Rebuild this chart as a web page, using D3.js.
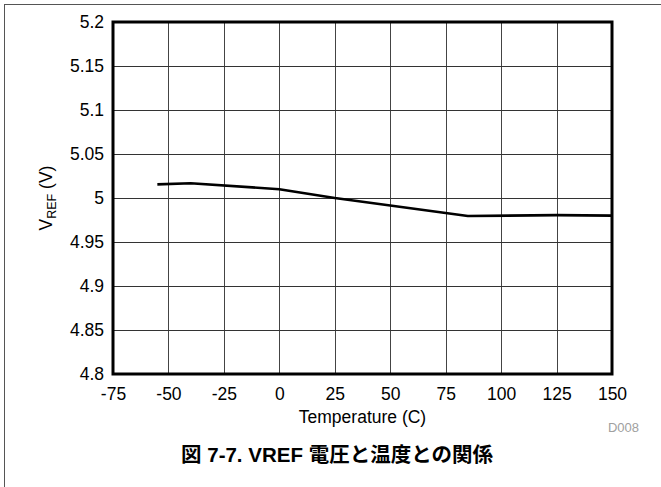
<!DOCTYPE html>
<html>
<head>
<meta charset="utf-8">
<script src="https://cdn.jsdelivr.net/npm/d3@7"></script>
<style>
  html, body { margin: 0; padding: 0; background: #fff; }
  svg { display: block; }
  text { font-family: "Liberation Sans", Arial, "Noto Sans CJK JP", sans-serif; }
</style>
</head>
<body>
<script>
// VREF versus temperature
const temperatures = [-55, -40, 0, 25, 85, 125, 150];
const vrefValues = [5.0155, 5.0168, 5.010, 5.000, 4.9795, 4.9805, 4.980];
const xTicks = [-75, -50, -25, 0, 25, 50, 75, 100, 125, 150];
const yTicks = [4.8, 4.85, 4.9, 4.95, 5, 5.05, 5.1, 5.15, 5.2];
const xTitle = "Temperature (C)";
const figureId = "D008";
const caption = "図 7-7. VREF 電圧と温度との関係";

const W = 661, H = 487;
const plot = { left: 113, top: 22, right: 612, bottom: 374 };

const svg = d3.select("body").append("svg")
  .attr("width", W).attr("height", H);

// outer page frame
svg.append("rect")
  .attr("x", 4.5).attr("y", 4.5)
  .attr("width", W + 20).attr("height", H + 20)
  .attr("fill", "none").attr("stroke", "#555").attr("stroke-width", 1);

const x = d3.scaleLinear().domain([-75, 150]).range([plot.left, plot.right]);
const y = d3.scaleLinear().domain([4.8, 5.2]).range([plot.bottom, plot.top]);

const g = svg.append("g");

// grid lines
g.append("g").selectAll("line.v").data(xTicks.slice(1, -1)).join("line")
  .attr("x1", d => Math.round(x(d)) + 0.5).attr("x2", d => Math.round(x(d)) + 0.5)
  .attr("y1", plot.top).attr("y2", plot.bottom)
  .attr("stroke", "#444").attr("stroke-width", 1);
g.append("g").selectAll("line.h").data(yTicks.slice(1, -1)).join("line")
  .attr("y1", d => Math.round(y(d)) + 0.5).attr("y2", d => Math.round(y(d)) + 0.5)
  .attr("x1", plot.left).attr("x2", plot.right)
  .attr("stroke", "#333").attr("stroke-width", 1);

// x axis labels
const xAxis = d3.axisBottom(x).tickValues(xTicks).tickSize(0).tickPadding(14)
  .tickFormat(d => String(d));
const gx = g.append("g").attr("transform", `translate(0,${plot.bottom})`).call(xAxis);
gx.select(".domain").remove();
gx.selectAll("text").attr("font-size", "17.5px").attr("fill", "#000")
  .attr("font-family", "'Liberation Sans', Arial, sans-serif");

// y axis labels
const yAxis = d3.axisLeft(y).tickValues(yTicks).tickSize(0).tickPadding(9)
  .tickFormat(d => String(+d.toFixed(2)));
const gy = g.append("g").attr("transform", `translate(${plot.left},0)`).call(yAxis);
gy.select(".domain").remove();
gy.selectAll("text").attr("font-size", "17.5px").attr("fill", "#000")
  .attr("font-family", "'Liberation Sans', Arial, sans-serif");

// data line
const line = d3.line().x((d, i) => x(temperatures[i])).y(d => y(d));
g.append("path").datum(vrefValues)
  .attr("d", line)
  .attr("fill", "none").attr("stroke", "#000").attr("stroke-width", 2.6)
  .attr("stroke-linejoin", "round");

// plot frame
g.append("rect")
  .attr("x", plot.left).attr("y", plot.top)
  .attr("width", plot.right - plot.left).attr("height", plot.bottom - plot.top)
  .attr("fill", "none").attr("stroke", "#000").attr("stroke-width", 3);

// axis titles
svg.append("text")
  .attr("x", (plot.left + plot.right) / 2).attr("y", 423)
  .attr("text-anchor", "middle").attr("font-size", "17.5px")
  .text(xTitle);

const yt = svg.append("text")
  .attr("transform", `translate(52,${(plot.top + plot.bottom) / 2}) rotate(-90)`)
  .attr("text-anchor", "middle").attr("font-size", "17.5px");
yt.append("tspan").text("V");
yt.append("tspan").attr("font-size", "12.5px").attr("dy", 4).text("REF");
yt.append("tspan").attr("dy", -4).text(" (V)");

// figure id
svg.append("text")
  .attr("x", 639).attr("y", 432)
  .attr("text-anchor", "end").attr("font-size", "13px").attr("fill", "#a0a0a0")
  .text(figureId);

// caption
svg.append("text")
  .attr("x", 337).attr("y", 462)
  .attr("text-anchor", "middle").attr("font-size", "20.5px").attr("font-weight", "bold")
  .attr("font-family", "'Liberation Sans', Arial, 'Noto Sans CJK JP', sans-serif")
  .text(caption);
</script>
</body>
</html>
